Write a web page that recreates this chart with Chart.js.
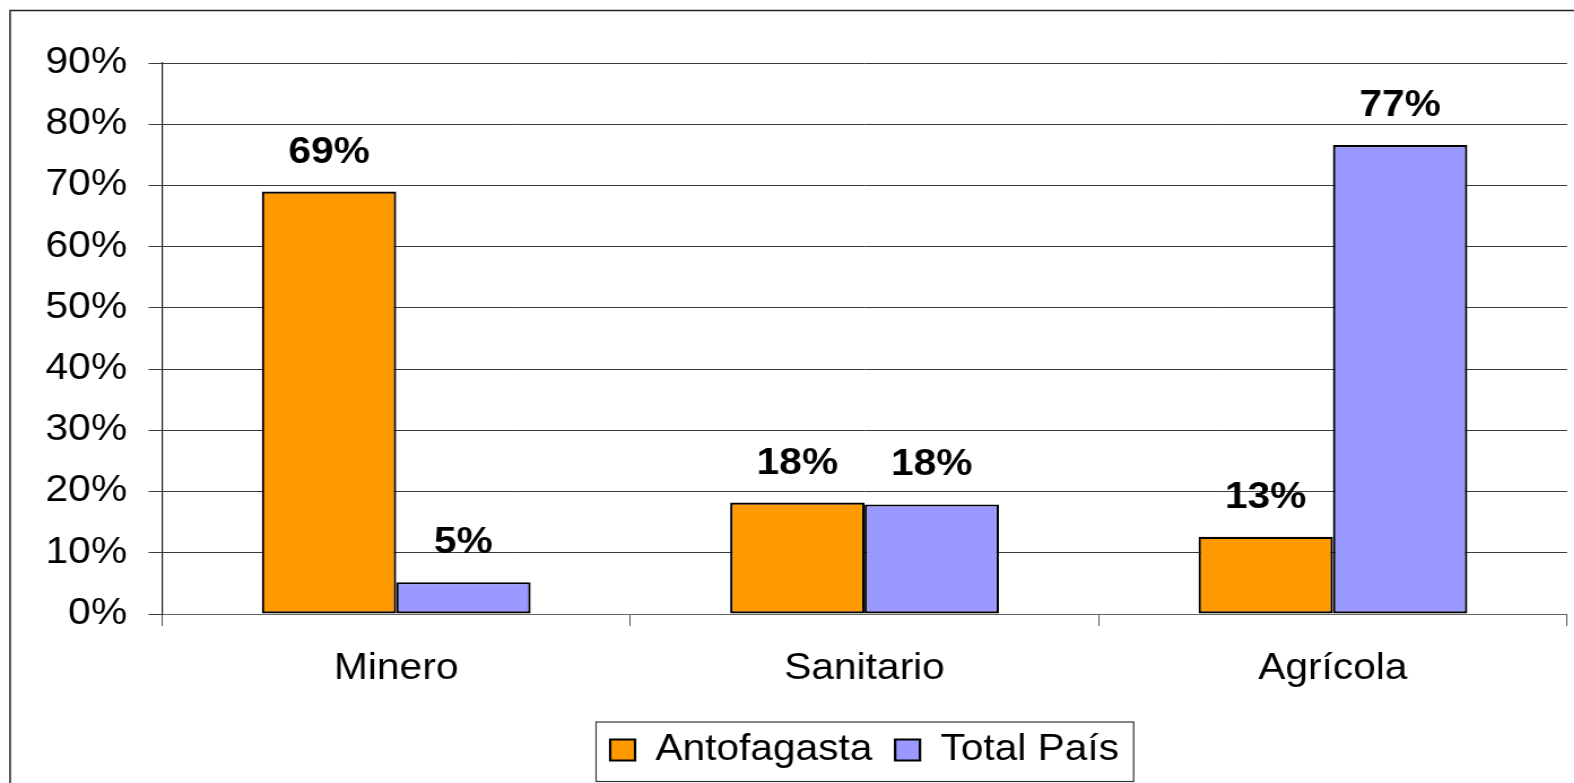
<!DOCTYPE html>
<html>
<head>
<meta charset="utf-8">
<script src="https://cdn.jsdelivr.net/npm/chart.js@4.4.1/dist/chart.umd.min.js"></script>
<style>
  html, body { margin: 0; padding: 0; background: #fff; overflow: hidden; }
  /* the source picture is stretched sideways, so the chart is drawn narrower and scaled */
  #wrap { position: absolute; left: 0; top: 0; width: 1393px; height: 783px;
          transform: scaleX(1.13); transform-origin: 0 0; }
</style>
</head>
<body>
<div id="wrap"><canvas id="chart"></canvas></div>
<script>
// ===================== Data =====================
const categories = ['Minero', 'Sanitario', 'Agrícola'];
const antofagasta = [69.0, 18.2, 12.6];
const totalPais = [5.2, 17.9, 76.6];
const yTicks = [0, 10, 20, 30, 40, 50, 60, 70, 80, 90];

const FONT = '"Liberation Sans", Arial, sans-serif';

// ===================== Plugins =====================
const outerBorder = {
  id: 'outerBorder',
  beforeDraw(chart) {
    const ctx = chart.ctx;
    ctx.save();
    ctx.strokeStyle = '#222';
    ctx.lineWidth = 1.5;
    ctx.strokeRect(8.9, 10.5, chart.width + 20, chart.height + 20);
    ctx.restore();
  }
};

const valueLabels = {
  id: 'valueLabels',
  afterDatasetsDraw(chart) {
    const ctx = chart.ctx;
    ctx.save();
    ctx.font = 'bold 36px ' + FONT;
    ctx.fillStyle = '#000';
    ctx.textAlign = 'center';
    ctx.textBaseline = 'alphabetic';
    chart.data.datasets.forEach((ds, i) => {
      chart.getDatasetMeta(i).data.forEach((bar, j) => {
        ctx.fillText(Math.round(ds.data[j]) + '%', bar.x, bar.y - 29);
      });
    });
    ctx.restore();
  }
};

const legendFrame = {
  id: 'legendFrame',
  afterDraw(chart) {
    const lg = chart.legend;
    if (!lg || !lg.legendHitBoxes.length) return;
    const boxes = lg.legendHitBoxes;
    const first = boxes[0], last = boxes[boxes.length - 1];
    const ctx = chart.ctx;
    ctx.save();
    ctx.strokeStyle = '#333';
    ctx.lineWidth = 1.2;
    const left = first.left - 12.5;
    const right = last.left + last.width + 13;
    const top = first.top - 10;
    ctx.strokeRect(left, top, right - left, chart.height - top - 1.5);
    ctx.restore();
  }
};

// ===================== Chart =====================
new Chart(document.getElementById('chart'), {
  type: 'bar',
  data: {
    labels: categories,
    datasets: [
      { label: 'Antofagasta', data: antofagasta, backgroundColor: '#FF9900', borderColor: '#000', borderWidth: 2.2, borderSkipped: false },
      { label: 'Total País', data: totalPais, backgroundColor: '#9999FF', borderColor: '#000', borderWidth: 2.2, borderSkipped: false },
    ],
  },
  options: {
    responsive: true,
    maintainAspectRatio: false,
    animation: false,
    events: [],
    layout: { padding: { left: 0, right: 6.2, top: 63, bottom: 5 } },
    datasets: { bar: { barPercentage: 1, categoryPercentage: 0.574 } },
    plugins: {
      tooltip: { enabled: false },
      legend: {
        position: 'bottom',
        fullSize: false,
        labels: {
          font: { family: FONT, size: 36 },
          color: '#000',
          boxWidth: 22,
          boxHeight: 21,
          padding: 20,
        },
      },
    },
    scales: {
      x: {
        afterFit: s => { s.height = 98; },
        grid: { offset: true, drawOnChartArea: false, drawTicks: true, tickLength: 12, color: '#555' },
        border: { color: '#666', width: 1 },
        ticks: { font: { family: FONT, size: 36 }, color: '#000', padding: 21 },
      },
      y: {
        min: 0,
        max: 90,
        afterFit: s => { s.width = 143.4; },
        afterBuildTicks: s => { s.ticks = yTicks.map(v => ({ value: v })); },
        grid: { color: '#3a3a3a', lineWidth: 1, tickLength: 12 },
        border: { color: '#222', width: 1.2 },
        ticks: { font: { family: FONT, size: 36 }, color: '#000', padding: 19, callback: v => v + '%' },
      },
    },
  },
  plugins: [outerBorder, valueLabels, legendFrame],
});
</script>
</body>
</html>
